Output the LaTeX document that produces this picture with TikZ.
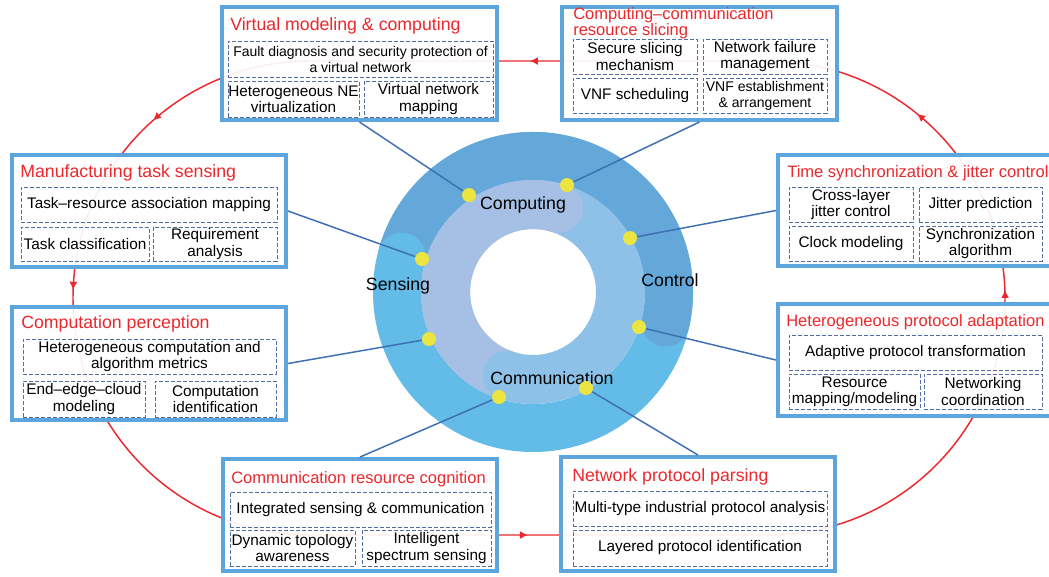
\documentclass[tikz,border=0pt]{standalone}
\usepackage{fontspec}
\setmainfont{Liberation Sans}
\usetikzlibrary{arrows.meta,fit,decorations.markings}

\definecolor{panelblue}{RGB}{93,165,221}
\definecolor{dashblue}{RGB}{80,110,160}
\definecolor{linkblue}{RGB}{62,110,180}
\definecolor{loopred}{RGB}{235,40,45}
\definecolor{ringdark}{RGB}{100,168,218}
\definecolor{ringlight}{RGB}{99,187,231}
\definecolor{innerlav}{RGB}{166,191,228}
\definecolor{innerblue}{RGB}{142,193,232}
\definecolor{dotyellow}{RGB}{236,228,65}

\begin{document}
\begin{tikzpicture}[x=0.75pt, y=-0.75pt,
  panel/.style={draw=panelblue, line width=3pt, fill=white, fill opacity=0.92, inner sep=0pt},
  item/.style={draw=dashblue, line width=0.6pt, dash pattern=on 3pt off 1.5pt, inner sep=0pt},
  itemtext/.style={inner sep=0pt, align=center, font=\fontsize{11.5}{12.2}\selectfont},
  smalltext/.style={itemtext, font=\fontsize{10.5}{12}\selectfont},
  title/.style={anchor=west, inner sep=0pt, text=loopred, font=\fontsize{13.3}{14}\selectfont},
  longtitle/.style={title, align=left, font=\fontsize{12.4}{12}\selectfont},
  ringlabel/.style={inner sep=0pt, font=\fontsize{13.3}{14}\selectfont},
  dot/.style={circle, fill=dotyellow, inner sep=0pt, minimum size=10.5pt},
  link/.style={linkblue, line width=1.1pt},
  loop/.style={loopred, line width=1.1pt}]

  \fill[white] (0,0) rectangle (1049,576);
  \useasboundingbox (0,0) rectangle (1049,576);

  % the two-tone ring in the middle
  \coordinate (ring) at (533,292);
  \draw[ringlight, line width=36pt] (ring) circle[radius=102pt];
  \draw[ringdark, line width=36pt] ([shift={(-13:102pt)}]ring) arc[start angle=-13, end angle=165, radius=102pt];
  \fill[ringdark] ([shift={(-13:102pt)}]ring) circle[radius=18pt];
  \fill[ringlight] ([shift={(165:102pt)}]ring) circle[radius=18pt];
  \draw[innerblue, line width=36.75pt] (ring) circle[radius=65.6pt];
  \draw[innerlav, line width=36.75pt] ([shift={(73:65.6pt)}]ring) arc[start angle=73, end angle=253, radius=65.6pt];
  \fill[innerlav] ([shift={(73:65.6pt)}]ring) circle[radius=18.4pt];
  \fill[innerblue] ([shift={(253:65.6pt)}]ring) circle[radius=18.4pt];

  \node[ringlabel] (lcomp) at (523,205) {Computing};
  \node[ringlabel] (lsens) at (398,286) {Sensing};
  \node[ringlabel] (lctrl) at (670,280) {Control};
  \node[ringlabel] (lcomm) at (552,378) {Communication};

  % red cycle running behind the panels
  \draw[loop, postaction={decorate}, decoration={markings,
      mark=at position 0.099 with {\arrow{Latex[length=6pt,width=6pt]}},
      mark=at position 0.2617 with {\arrow{Latex[length=6pt,width=6pt]}},
      mark=at position 0.3418 with {\arrow{Latex[length=6pt,width=6pt]}},
      mark=at position 0.5906 with {\arrow{Latex[length=6pt,width=6pt]}},
      mark=at position 0.8486 with {\arrow{Latex[length=6pt,width=6pt]}},
      mark=at position 0.9329 with {\arrow{Latex[length=6pt,width=6pt]}}}]
    (768,61) -- (310,61) arc[start angle=90, end angle=270, radius=177.75pt]
    -- (768,535) arc[start angle=-90, end angle=90, radius=177.75pt] -- cycle;

  % yellow anchor points on the ring
  \node[dot] (dvm) at (469,195) {};
  \node[dot] (dcs) at (567,185) {};
  \node[dot] (dtj) at (630,238) {};
  \node[dot] (dhp) at (639,327) {};
  \node[dot] (dnp) at (586,388) {};
  \node[dot] (dcr) at (499,397) {};
  \node[dot] (dcp) at (429,339) {};
  \node[dot] (dts) at (422,259) {};

  % Virtual modeling & computing
  \node[panel, fit={(222,7) (497,120)}] (vm) {};
  \node[title] (vmt) at (230,26) {Virtual modeling \& computing};
  \node[item, fit={(228,41) (493,77)}, label={[smalltext]center:{Fault diagnosis and security protection of\\a virtual network}}] (vm1) {};
  \node[item, fit={(228,81) (359,117)}, label={[itemtext]center:{Heterogeneous NE\\virtualization}}] (vm2) {};
  \node[item, fit={(364,81) (493,117)}, label={[itemtext]center:{Virtual network\\mapping}}] (vm3) {};

  % Computing-communication resource slicing
  \node[panel, fit={(562,7) (837,120)}] (cs) {};
  \node[longtitle] (cst) at (573,23) {Computing--communication\\resource slicing};
  \node[item, fit={(573,39) (697,74)}, label={[itemtext]center:{Secure slicing\\mechanism}}] (cs1) {};
  \node[item, fit={(703,39) (827,74)}, label={[itemtext]center:{Network failure\\management}}] (cs2) {};
  \node[item, fit={(573,78) (697,113)}, label={[itemtext]center:VNF scheduling}] (cs3) {};
  \node[item, fit={(703,78) (827,113)}, label={[smalltext]center:{VNF establishment\\\& arrangement}}] (cs4) {};

  % Manufacturing task sensing
  \node[panel, fit={(12,155) (286,267)}] (ts) {};
  \node[title] (tst) at (20,173) {Manufacturing task sensing};
  \node[item, fit={(21,187) (277,222)}, label={[itemtext]center:Task--resource association mapping}] (ts1) {};
  \node[item, fit={(21,227) (149,261)}, label={[itemtext]center:Task classification}] (ts2) {};
  \node[item, fit={(153,227) (277,261)}, label={[itemtext]center:{Requirement\\analysis}}] (ts3) {};

  % Time synchronization & jitter control
  \node[panel, fit={(778,155) (1054,266)}] (tj) {};
  \node[longtitle] (tjt) at (787,173) {Time synchronization \& jitter control};
  \node[item, fit={(789,187) (913,222)}, label={[itemtext]center:{Cross-layer\\jitter control}}] (tj1) {};
  \node[item, fit={(919,187) (1042,222)}, label={[itemtext]center:Jitter prediction}] (tj2) {};
  \node[item, fit={(789,226) (913,261)}, label={[itemtext]center:Clock modeling}] (tj3) {};
  \node[item, fit={(919,226) (1042,261)}, label={[itemtext]center:{Synchronization\\algorithm}}] (tj4) {};

  % Computation perception
  \node[panel, fit={(12,307) (286,420)}] (cp) {};
  \node[title] (cpt) at (21,324) {Computation perception};
  \node[item, fit={(23,339) (276,374)}, label={[itemtext]center:{Heterogeneous computation and\\algorithm metrics}}] (cp1) {};
  \node[item, fit={(23,381) (145,417)}, label={[itemtext]center:{End--edge--cloud\\modeling}}] (cp2) {};
  \node[item, fit={(155,381) (276,417)}, label={[itemtext]center:{Computation\\identification}}] (cp3) {};

  % Heterogeneous protocol adaptation
  \node[panel, fit={(778,304) (1054,416)}] (hp) {};
  \node[longtitle] (hpt) at (786,322) {Heterogeneous protocol adaptation};
  \node[item, fit={(789,335) (1042,370)}, label={[itemtext]center:Adaptive protocol transformation}] (hp1) {};
  \node[item, fit={(789,374) (920,409)}, label={[itemtext]center:{Resource\\mapping/modeling}}] (hp2) {};
  \node[item, fit={(924,374) (1042,409)}, label={[itemtext]center:{Networking\\coordination}}] (hp3) {};

  % Communication resource cognition
  \node[panel, fit={(223,459) (497,571)}] (cr) {};
  \node[longtitle] (crt) at (231,479) {Communication resource cognition};
  \node[item, fit={(230,492) (491,527)}, label={[itemtext]center:Integrated sensing \& communication}] (cr1) {};
  \node[item, fit={(230,530) (355,566)}, label={[itemtext]center:{Dynamic topology\\awareness}}] (cr2) {};
  \node[item, fit={(362,530) (491,566)}, label={[itemtext]center:{Intelligent\\spectrum sensing}}] (cr3) {};

  % Network protocol parsing
  \node[panel, fit={(561,457) (835,571)}] (np) {};
  \node[title] (npt) at (572,477) {Network protocol parsing};
  \node[item, fit={(573,491) (827,526)}, label={[itemtext]center:Multi-type industrial protocol analysis}] (np1) {};
  \node[item, fit={(573,530) (827,566)}, label={[itemtext]center:Layered protocol identification}] (np2) {};

  % panels to ring
  \draw[link] (vm.south) -- (dvm);
  \draw[link] (cs.south) -- (dcs);
  \draw[link] (ts.east) -- (dts);
  \draw[link] (tj.west) -- (dtj);
  \draw[link] (cp.east) -- (dcp);
  \draw[link] (hp.west) -- (dhp);
  \draw[link] (cr.north) -- (dcr);
  \draw[link] (np.north) -- (dnp);
\end{tikzpicture}
\end{document}
